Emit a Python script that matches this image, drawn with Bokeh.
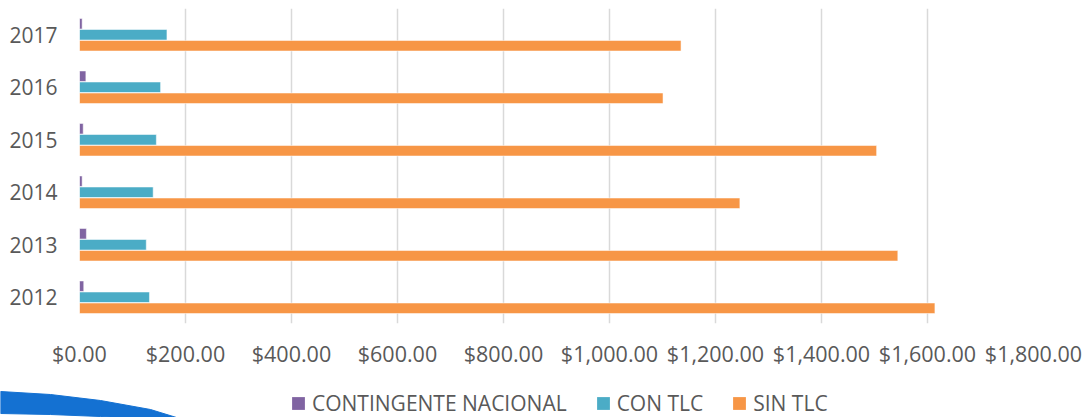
from bokeh.plotting import figure
from bokeh.layouts import column
from bokeh.models import (ColumnDataSource, FactorRange, Range1d, SingleIntervalTicker,
                          NumeralTickFormatter, Legend, LegendItem)
from bokeh.transform import dodge
from bokeh.embed import file_html
from bokeh.resources import INLINE

years = ["2012", "2013", "2014", "2015", "2016", "2017"]
contingente = [8, 13, 5, 7, 12, 5]
con_tlc = [132, 126, 139, 145, 153, 165]
sin_tlc = [1614, 1544, 1246, 1504, 1101, 1135]

series_names = ["CONTINGENTE NACIONAL", "CON TLC", "SIN TLC"]
colors = ["#8064A2", "#4BACC6", "#F79646"]

# decorative blue swoosh in the bottom-left corner (page pixels, legend strip)
swoosh_x = [0, 50, 100, 150, 176, 120, 100, 50, 0]
swoosh_y = [391, 394, 400, 409, 417, 417, 416, 414, 413]

src = ColumnDataSource(dict(year=years, cont=contingente, con=con_tlc, sin=sin_tlc))

FONT = "Open Sans"
TXT = "#595959"
W = 1083
H1 = 380
H2 = 37

p = figure(width=W, height=H1, y_range=FactorRange(*years),
           x_range=Range1d(0, 1800), output_backend="svg", toolbar_location=None,
           min_border_left=79, min_border_right=50, min_border_top=8, min_border_bottom=57)
p.outline_line_color = None
p.frame_align = False

bh = 0.2
r1 = p.hbar(y=dodge("year", 0.21, range=p.y_range), right="cont", left=0, height=bh,
            source=src, fill_color=colors[0], line_color="#ffffff", line_alpha=0.5, line_width=1)
r2 = p.hbar(y=dodge("year", 0.0, range=p.y_range), right="con", left=0, height=bh,
            source=src, fill_color=colors[1], line_color="#ffffff", line_alpha=0.5, line_width=1)
r3 = p.hbar(y=dodge("year", -0.21, range=p.y_range), right="sin", left=0, height=bh,
            source=src, fill_color=colors[2], line_color="#ffffff", line_alpha=0.5, line_width=1)

p.xaxis.ticker = SingleIntervalTicker(interval=200)
p.xaxis.formatter = NumeralTickFormatter(format="$0,0.00")
for ax in (p.xaxis[0], p.yaxis[0]):
    ax.axis_line_color = None
    ax.major_tick_line_color = None
    ax.minor_tick_line_color = None
    ax.major_tick_out = 0
    ax.major_tick_in = 0
    ax.major_label_text_font = FONT
    ax.major_label_text_color = TXT
p.xaxis.major_label_text_font_size = "21.5px"
p.xaxis.major_label_standoff = 11
p.yaxis.major_label_standoff = 22
p.yaxis.major_label_text_font_size = "21px"

p.ygrid.grid_line_color = None
p.xgrid.grid_line_color = "#d9d9d9"
p.xgrid.grid_line_width = 1.5

# legend strip (screen-pixel coordinates of the page's bottom band)
p2 = figure(width=W, height=H2, x_range=Range1d(0, W), y_range=Range1d(H1 + H2, H1),
            output_backend="svg", toolbar_location=None,
            min_border_left=0, min_border_right=0, min_border_top=0, min_border_bottom=0)
p2.frame_align = False
p2.axis.visible = False
p2.grid.grid_line_color = None
p2.outline_line_color = None
p2.patch(swoosh_x, swoosh_y, fill_color="#1471D2", line_color="#1471D2", line_width=1)

# legend proxies: bars placed outside the strip's visible range
proxy = ColumnDataSource(dict(y=[0], right=[0]))
items = []
for name, c in zip(series_names, colors):
    rr = p2.hbar(y="y", right="right", left=0, height=1, source=proxy,
                 fill_color=c, line_color=None)
    items.append(LegendItem(label=name, renderers=[rr]))

legend = Legend(items=items, orientation="horizontal", location=(290, 0))
legend.label_text_font = FONT
legend.label_text_font_size = "21px"
legend.label_text_color = TXT
legend.glyph_width = 16
legend.glyph_height = 16
legend.label_standoff = 6
legend.spacing = 28
legend.padding = 0
legend.margin = 0
legend.border_line_color = None
legend.background_fill_alpha = 0
p2.add_layout(legend)

layout = column(p, p2, spacing=0)
open("out.html", "w").write(file_html(layout, INLINE))
